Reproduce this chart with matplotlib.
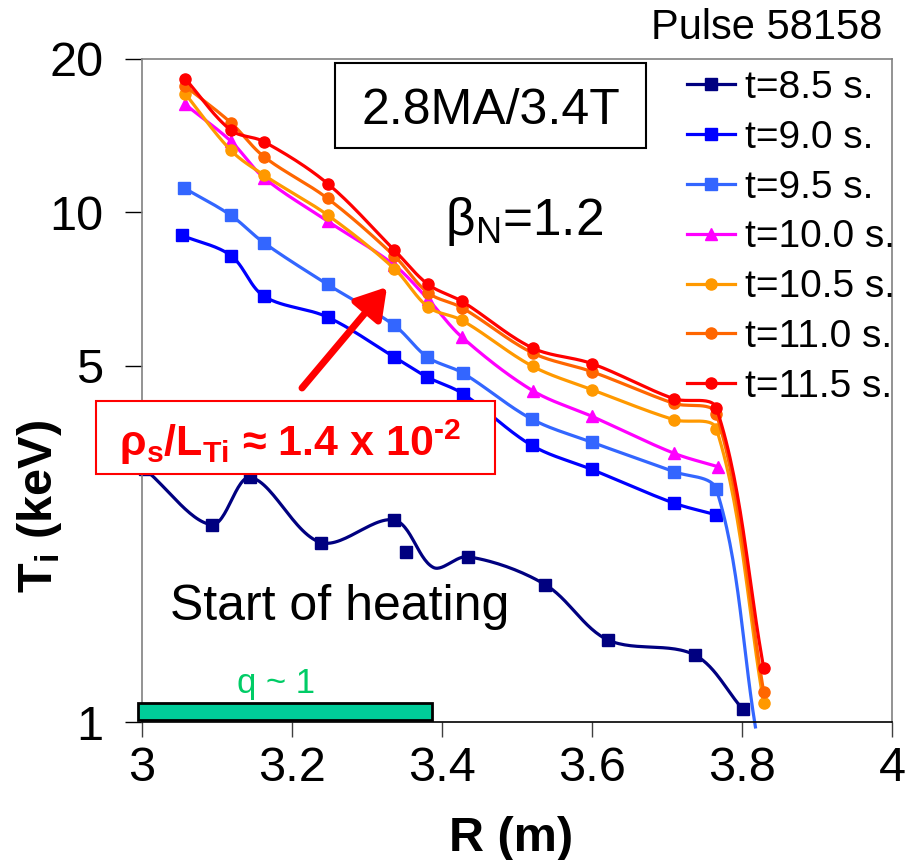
import numpy as np
import matplotlib
matplotlib.use("Agg")
import matplotlib.pyplot as plt
from matplotlib.patches import Rectangle
from matplotlib.lines import Line2D

plt.rcParams['font.family'] = ['Liberation Sans', 'DejaVu Sans']
plt.rcParams['mathtext.fontset'] = 'custom'
plt.rcParams['mathtext.rm'] = 'Liberation Sans'
plt.rcParams['mathtext.it'] = 'Liberation Sans:italic'
plt.rcParams['mathtext.bf'] = 'Liberation Sans:bold'
plt.rcParams['mathtext.sf'] = 'Liberation Sans'

# ---------------- data ----------------
R_85 = [3.005, 3.094, 3.145, 3.239, 3.337, 3.389, 3.435, 3.538, 3.621, 3.737, 3.801]
T_85 = [3.13, 2.44, 3.02, 2.25, 2.49, 2.01, 2.11, 1.86, 1.45, 1.354, 1.06]
marks_85 = [0, 1, 2, 3, 4, 6, 7, 8, 9, 10]
R_85_extra = [3.353]
T_85_extra = [2.16]

R_90 = [3.054, 3.119, 3.163, 3.248, 3.337, 3.381, 3.428, 3.520, 3.600, 3.709, 3.766]
T_90 = [9.01, 8.23, 6.85, 6.23, 5.20, 4.75, 4.41, 3.49, 3.13, 2.69, 2.55]

R_95 = [3.056, 3.119, 3.163, 3.248, 3.337, 3.381, 3.428, 3.520, 3.600, 3.709, 3.766, 3.818]
T_95 = [11.18, 9.87, 8.72, 7.22, 6.00, 5.20, 4.84, 3.93, 3.54, 3.10, 2.86, 0.978]
marks_95 = list(range(11))

R_100 = [3.058, 3.119, 3.163, 3.248, 3.336, 3.382, 3.427, 3.521, 3.600, 3.709, 3.768]
T_100 = [16.3, 13.8, 11.7, 9.61, 7.90, 6.75, 5.69, 4.47, 3.98, 3.37, 3.17]

R_105 = [3.058, 3.119, 3.163, 3.248, 3.337, 3.382, 3.427, 3.521, 3.600, 3.709, 3.766, 3.829]
T_105 = [17.11, 13.24, 11.84, 9.88, 7.75, 6.52, 6.14, 4.99, 4.49, 3.92, 3.76, 1.09]

R_110 = [3.058, 3.119, 3.163, 3.248, 3.337, 3.382, 3.427, 3.521, 3.600, 3.709, 3.766, 3.829]
T_110 = [17.71, 15.0, 12.87, 10.65, 8.21, 6.95, 6.50, 5.30, 4.87, 4.22, 4.02, 1.147]

R_115 = [3.058, 3.119, 3.163, 3.248, 3.337, 3.382, 3.427, 3.521, 3.600, 3.709, 3.766, 3.829]
T_115 = [18.31, 14.50, 13.77, 11.39, 8.43, 7.22, 6.69, 5.42, 5.05, 4.31, 4.13, 1.278]

labels = ["t=8.5 s.", "t=9.0 s.", "t=9.5 s.", "t=10.0 s.", "t=10.5 s.", "t=11.0 s.", "t=11.5 s."]
q1_R = (2.995, 3.387)

y_ticks = [1, 5, 10, 20]
y_ticklabels = ["1", "5", "10", "20"]
x_ticks = [3, 3.2, 3.4, 3.6, 3.8, 4]
x_ticklabels = ["3", "3.2", "3.4", "3.6", "3.8", "4"]

# screen scale (pixels per x unit / per y decade) used only for the smoothing shape
SX, SY = 750.5, 509.0


def smooth(x, y, n=30):
    """Excel-like smoothed line (chord-scaled Bezier) computed in screen-like space."""
    X = np.asarray(x, float) * SX
    Y = np.log10(np.asarray(y, float)) * SY
    P = np.column_stack([X, Y])
    Pp = np.vstack([P[0], P, P[-1]])
    out = [P[0]]
    t = np.linspace(0, 1, n)[1:, None]
    for i in range(len(P) - 1):
        p0, p1, p2, p3 = Pp[i], Pp[i + 1], Pp[i + 2], Pp[i + 3]
        d01 = np.linalg.norm(p1 - p0)
        d12 = np.linalg.norm(p2 - p1)
        d23 = np.linalg.norm(p3 - p2)
        f1 = d12 / (d01 + d12) if d01 + d12 > 0 else 0.5
        f2 = d12 / (d12 + d23) if d12 + d23 > 0 else 0.5
        c1 = p1 + (p2 - p0) * f1 / 3.0
        c2 = p2 - (p3 - p1) * f2 / 3.0
        seg = ((1 - t) ** 3) * p1 + 3 * ((1 - t) ** 2) * t * c1 + 3 * (1 - t) * t ** 2 * c2 + t ** 3 * p2
        out.extend(seg)
    out = np.array(out)
    return out[:, 0] / SX, 10 ** (out[:, 1] / SY)


fig = plt.figure(figsize=(9.1, 8.6), dpi=100)
L, Rr, B, Tp = 141.5, 892.0, 722.0, 59.0
ax = fig.add_axes([L / 910, 1 - B / 860, (Rr - L) / 910, (B - Tp) / 860])
ax.set_yscale('log')
ax.set_xlim(3, 4)
ax.set_ylim(1, 20)


def P(px, py):
    return ((px - L) / (Rr - L), (B - py) / (B - Tp))


series = [
    (R_85, T_85, '#000080', 's', 8.4, marks_85),
    (R_90, T_90, '#0000FF', 's', 8.4, None),
    (R_95, T_95, '#3366FF', 's', 8.4, marks_95),
    (R_100, T_100, '#FF00FF', '^', 9.0, None),
    (R_105, T_105, '#FF9900', 'o', 8.0, None),
    (R_110, T_110, '#FF6600', 'o', 8.0, None),
    (R_115, T_115, '#FF0000', 'o', 8.0, None),
]

handles = []
for k, (r, tt, c, m, ms, mk) in enumerate(series):
    xs, ys = smooth(r, tt)
    ax.plot(xs, ys, color=c, lw=2.3, zorder=2 + k * 0.1, clip_on=False, solid_joinstyle='round')
    idx = mk if mk is not None else list(range(len(r)))
    ax.plot(np.asarray(r)[idx], np.asarray(tt)[idx], ls='none', marker=m, ms=ms,
            color=c, mec=c, zorder=2.05 + k * 0.1, clip_on=False)
    handles.append(Line2D([], [], color=c, lw=2.3, marker=m, ms=ms, mec=c))

ax.plot(R_85_extra, T_85_extra, ls='none', marker='s', ms=8.4, color='#000080', zorder=2.05)

# axes styling
ax.set_yticks(y_ticks)
ax.set_yticklabels(y_ticklabels)
ax.yaxis.set_minor_locator(matplotlib.ticker.NullLocator())
ax.set_xticks(x_ticks)
ax.set_xticklabels(x_ticklabels)
ax.tick_params(axis='y', which='major', direction='out', length=12, width=1, pad=15.5,
               labelsize=35, color='black')
ax.tick_params(axis='x', which='major', direction='out', length=11, width=1, pad=6,
               labelsize=35, color='#404040')
for s in ['left', 'top', 'right']:
    ax.spines[s].set_color('#808080')
    ax.spines[s].set_linewidth(1.2)
ax.spines['bottom'].set_color('black')
ax.spines['bottom'].set_linewidth(1.2)

# axis labels
fig.text(40 / 910, 1 - 506 / 860, r'T$_{\mathbf{i}}$ (keV)', rotation=90, ha='center', va='center',
         fontsize=35, fontweight='bold')
fig.text(511 / 910, 1 - 851 / 860, 'R (m)', ha='center', va='baseline', fontsize=35, fontweight='bold')
fig.text(882 / 910, 1 - 39.3 / 860, 'Pulse 58158', ha='right', va='baseline', fontsize=30)

# legend
ax.legend(handles, labels, loc='upper left', bbox_to_anchor=P(686.7, 70), frameon=False,
          fontsize=28, handlelength=1.24, handletextpad=0.26, labelspacing=0.355,
          borderpad=0, borderaxespad=0, numpoints=1)

# 2.8MA/3.4T box
x0, y0 = P(335, 148.3)
x1, y1 = P(645.7, 63.3)
ax.add_patch(Rectangle((x0, y0), x1 - x0, y1 - y0, transform=ax.transAxes, fc='white',
                       ec='black', lw=1.5, zorder=6, clip_on=False))
ax.text(*P(490.5, 124), '2.8MA/3.4T', transform=ax.transAxes, ha='center', va='baseline',
        fontsize=36, zorder=7)

ax.text(*P(445, 235), r'$\mathrm{\beta_N}$=1.2', transform=ax.transAxes, ha='left',
        va='baseline', fontsize=37, zorder=7)

# arrow
ax.annotate('', xy=P(387, 287), xytext=P(302, 388), xycoords='axes fraction',
            textcoords='axes fraction',
            arrowprops=dict(arrowstyle='-|>,head_length=0.9,head_width=0.55', color='#FF0000',
                            lw=5, shrinkA=0, shrinkB=0, mutation_scale=20), zorder=8)

# red box
x0, y0 = P(96, 474.3)
x1, y1 = P(495, 401)
ax.add_patch(Rectangle((x0, y0), x1 - x0, y1 - y0, transform=ax.transAxes, fc='white',
                       ec='#FF0000', lw=1.5, zorder=9, clip_on=False))
ax.text(*P(119, 456), '$\\mathbf{\\rho_s}$/L$_{\\mathbf{Ti}}$ \u2248 1.4 x 10$^{\\mathbf{\u20102}}$',
        transform=ax.transAxes, ha='left', va='baseline', fontsize=31, fontweight='bold',
        color='#FF0000', zorder=10)

ax.text(*P(170, 620), 'Start of heating', transform=ax.transAxes, ha='left', va='baseline',
        fontsize=36, zorder=7)

ax.text(*P(237, 692.7), 'q ~ 1', transform=ax.transAxes, ha='left', va='baseline',
        fontsize=25, color='#00CC66', zorder=7)

# q~1 bar
by0 = P(0, 720)[1]
by1 = P(0, 703)[1]
ax.add_patch(Rectangle((q1_R[0], by0), q1_R[1] - q1_R[0], by1 - by0,
                       transform=ax.get_xaxis_transform(), fc='#00CC99', ec='black', lw=2,
                       zorder=5, clip_on=False))

fig.savefig('out.png', dpi=100)
